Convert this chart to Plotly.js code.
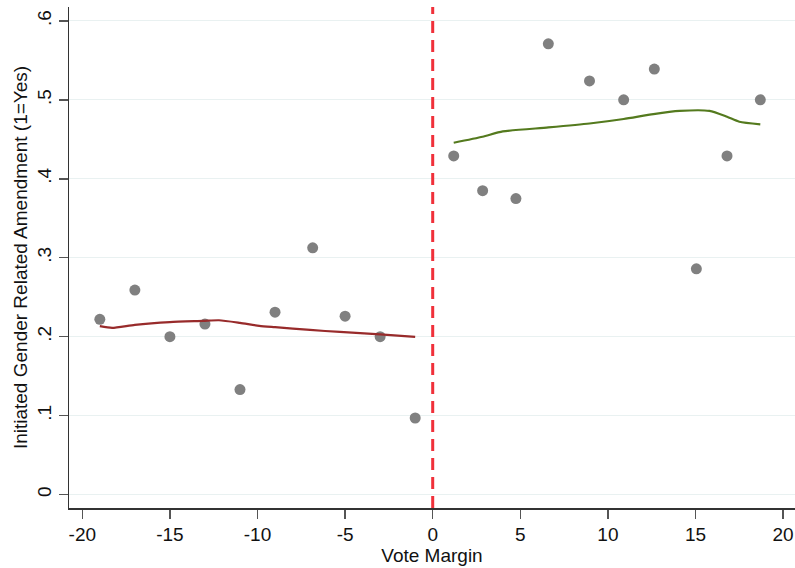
<!DOCTYPE html>
<html>
<head>
<meta charset="utf-8">
<script src="https://cdn.plot.ly/plotly-3.0.1.min.js"></script>
<style>html,body{margin:0;padding:0;background:#fff;}#chart{width:795px;height:568px;}</style>
</head>
<body>
<div id="chart"></div>
<script>
// Binned means, left of cutoff
const leftX = [-19, -17, -15, -13, -11, -9, -6.85, -5, -3, -1];
const leftY = [0.222, 0.259, 0.200, 0.216, 0.133, 0.231, 0.3125, 0.226, 0.200, 0.097];
// Binned means, right of cutoff
const rightX = [1.2, 2.85, 4.75, 6.6, 8.95, 10.9, 12.65, 15.05, 16.8, 18.7];
const rightY = [0.429, 0.385, 0.375, 0.571, 0.524, 0.500, 0.539, 0.286, 0.429, 0.500];
// Lowess fits
const fitLeftX = [-19, -18.3, -17, -15, -13.1, -12.2, -11, -9.9, -9, -7, -5.3, -3, -1];
const fitLeftY = [0.2133, 0.2112, 0.2150, 0.2185, 0.2200, 0.2208, 0.2175, 0.2137, 0.2120, 0.2085, 0.2060, 0.2030, 0.1997];
const fitRightX = [1.2, 2.85, 4.0, 6.6, 8.95, 10.9, 12.6, 14.1, 15.8, 16.8, 17.5, 18.7];
const fitRightY = [0.4457, 0.4533, 0.4600, 0.4650, 0.4700, 0.4757, 0.4820, 0.4860, 0.4860, 0.4786, 0.4723, 0.4690];
// Axis ticks
const xTicks = [-20, -15, -10, -5, 0, 5, 10, 15, 20];
const yTicks = [0, 0.1, 0.2, 0.3, 0.4, 0.5, 0.6];
const yTickText = ["0", ".1", ".2", ".3", ".4", ".5", ".6"];
const cutoff = 0;

const font = "'Liberation Sans', Arial, Helvetica, sans-serif";
const markerStyle = {color: '#808080', size: 11};

const traces = [
  {x: leftX, y: leftY, type: 'scatter', mode: 'markers', marker: markerStyle, hoverinfo: 'skip'},
  {x: rightX, y: rightY, type: 'scatter', mode: 'markers', marker: markerStyle, hoverinfo: 'skip'},
  {x: fitLeftX, y: fitLeftY, type: 'scatter', mode: 'lines', line: {color: '#982b2b', width: 2.2, shape: 'spline', smoothing: 0.6}, hoverinfo: 'skip'},
  {x: fitRightX, y: fitRightY, type: 'scatter', mode: 'lines', line: {color: '#547a1e', width: 2.2, shape: 'spline', smoothing: 0.6}, hoverinfo: 'skip'}
];

const layout = {
  width: 795, height: 568,
  margin: {l: 69, r: 0, t: 7, b: 60, pad: 0},
  paper_bgcolor: '#ffffff', plot_bgcolor: '#ffffff',
  showlegend: false,
  font: {family: font, size: 19, color: '#111'},
  xaxis: {
    range: [-20.76, 20.68], tickvals: xTicks, ticktext: xTicks.map(String),
    showgrid: false, zeroline: false, showline: true, linecolor: '#333', linewidth: 1.5,
    ticks: 'outside', ticklen: 9, tickwidth: 1.5, tickcolor: '#555',
    tickfont: {family: font, size: 19, color: '#111'},
    title: {text: 'Vote Margin', font: {family: font, size: 19, color: '#111'}, standoff: 4}
  },
  yaxis: {
    range: [-0.017, 0.6176], tickvals: yTicks, ticktext: yTickText, tickangle: -90,
    showgrid: true, gridcolor: '#e9f1f1', gridwidth: 1.2,
    zeroline: false, showline: true, linecolor: '#333', linewidth: 1.5,
    ticks: 'outside', ticklen: 9, tickwidth: 1.5, tickcolor: '#555',
    tickfont: {family: font, size: 19, color: '#111'},
    title: {text: 'Initiated Gender Related Amendment (1=Yes)', font: {family: font, size: 19, color: '#111'}, standoff: 1}
  },
  shapes: [{
    type: 'line', xref: 'x', yref: 'paper', x0: cutoff, x1: cutoff, y0: 0, y1: 1,
    line: {color: '#f0303a', width: 3, dash: '12px,7px'}
  }]
};

Plotly.newPlot('chart', traces, layout, {staticPlot: true, displayModeBar: false});
</script>
</body>
</html>
